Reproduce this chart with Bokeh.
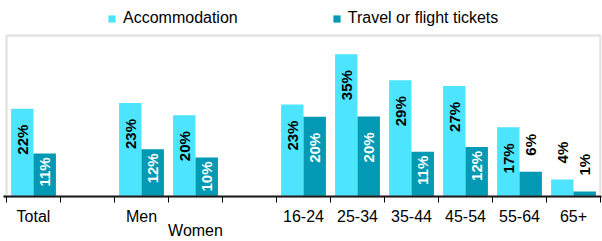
import numpy as np
from bokeh.plotting import figure
from bokeh.models import ColumnDataSource, FixedTicker, Legend, LegendItem, Range1d, BoxAnnotation
from bokeh.core.properties import value
from bokeh.embed import file_html
from bokeh.resources import INLINE

categories = ["Total", "", "Men", "Women", "", "16-24", "25-34", "35-44", "45-54", "55-64", "65+"]
label_rows = [0, 0, 0, 1, 0, 0, 0, 0, 0, 0, 0]
accommodation = [21.6, None, 23.0, 20.0, None, 22.6, 35.0, 28.6, 27.2, 17.0, 4.2]
travel = [10.6, None, 11.6, 9.6, None, 19.6, 19.7, 11.0, 12.2, 6.1, 1.2]
series_names = ["Accommodation", "Travel or flight tickets"]

ACC_COLOR = "#4DE4FF"
TRV_COLOR = "#0199B3"
FONT = "Liberation Sans"
Y_MAX = 39.6          # top of the plot box
Y_TOP = 48.2          # room above the box for the legend

BAR_W = 0.415
OFFS = [-BAR_W / 2, BAR_W / 2]
n = len(categories)

p = figure(width=602, height=241, output_backend="svg", toolbar_location=None,
           x_range=Range1d(-0.5 - 3 / 54, n - 0.5 + 1 / 54), y_range=Range1d(0, Y_TOP),
           min_border_left=3, min_border_right=1, min_border_top=0, min_border_bottom=0)
p.outline_line_color = None
p.xgrid.visible = False
p.ygrid.visible = False
p.yaxis.visible = False
p.background_fill_color = "white"
p.border_fill_color = "white"

p.add_layout(BoxAnnotation(left=-0.5, right=n - 0.5, bottom=0, top=Y_MAX,
                           fill_alpha=0, line_color="#A6A6A6", line_width=2.5))

renderers = []
for s, (vals, color, lab_inside_color) in enumerate([(accommodation, ACC_COLOR, "black"),
                                                     (travel, TRV_COLOR, "white")]):
    xs, tops = [], []
    for i, v in enumerate(vals):
        if v is None:
            continue
        xs.append(i + OFFS[s])
        tops.append(v)
    src = ColumnDataSource(dict(x=xs, top=tops))
    r = p.vbar(x="x", top="top", width=BAR_W, bottom=0, source=src,
               fill_color=color, line_color=None)
    renderers.append(r)

    groups = {}
    for x, v in zip(xs, tops):
        txt = f"{v:.0f}%"
        if v < 8:
            key = ("left", -16, "black")
        elif v < 15:
            key = ("right", 4, lab_inside_color)
        else:
            key = ("right", 16, lab_inside_color)
        groups.setdefault(key, ([], [], []))
        groups[key][0].append(x); groups[key][1].append(v); groups[key][2].append(txt)
    for (align, off, col), (gx, gy, gt) in groups.items():
        p.text(x=gx, y=gy, text=gt, angle=np.pi / 2,
               text_align=align, text_baseline="middle", y_offset=off,
               text_color=col, text_font=value(FONT), text_font_size="15px",
               text_font_style="bold")

labelled = [i for i, c in enumerate(categories) if c]
ax = p.xaxis[0]
ax.ticker = FixedTicker(ticks=labelled, minor_ticks=[i - 0.5 for i in range(n + 1)])
ax.major_label_overrides = {i: (" \n" * label_rows[i]) + categories[i] for i in labelled}
ax.major_tick_in = 0
ax.major_tick_out = 0
ax.minor_tick_in = 0
ax.minor_tick_out = 6
ax.minor_tick_line_color = "black"
ax.minor_tick_line_width = 1
ax.axis_line_color = "black"
ax.axis_line_width = 2
ax.major_label_standoff = 5
ax.major_label_text_font = FONT
ax.major_label_text_font_size = "16px"
ax.major_label_text_color = "black"
ax.major_label_text_line_height = 0.85

legend = Legend(items=[LegendItem(label=nm, renderers=[r]) for nm, r in zip(series_names, renderers)],
                orientation="horizontal", location=(104, 169),
                glyph_width=9, glyph_height=9, label_standoff=7, spacing=94,
                label_text_font=FONT, label_text_font_size="16px", label_height=9,
                label_text_color="black",
                padding=0, margin=0, border_line_color=None, background_fill_alpha=0)
p.add_layout(legend, "center")

open("out.html", "w").write(file_html(p, INLINE))
